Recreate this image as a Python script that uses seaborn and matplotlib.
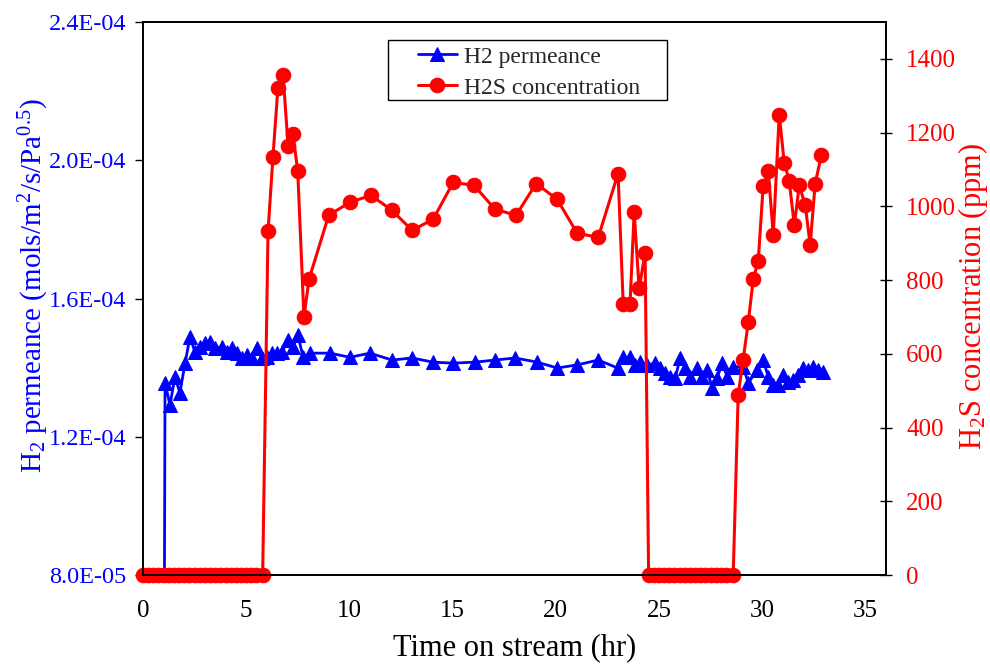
import matplotlib
matplotlib.use("Agg")
import matplotlib.pyplot as plt
from matplotlib.ticker import FuncFormatter
from matplotlib.patches import Rectangle
import seaborn as sns
import pandas as pd

# ---- data ----
h2_time = [1.0, 1.07, 1.31, 1.55, 1.79, 2.04, 2.28, 2.52, 2.76, 3.0, 3.25, 3.49, 3.83, 4.07,
           4.3, 4.56, 4.8, 5.04, 5.28, 5.53, 5.77, 6.0, 6.25, 6.5, 6.74, 7.03, 7.27, 7.51,
           7.76, 8.1, 9.06, 10.03, 11.0, 12.07, 13.04, 14.05, 15.03, 16.1, 17.06, 18.03,
           19.1, 20.07, 21.04, 22.06, 23.0, 23.27, 23.6, 23.85, 24.09, 24.43, 24.82, 25.06,
           25.3, 25.55, 25.79, 26.03, 26.27, 26.5, 26.85, 27.1, 27.34, 27.58, 27.82, 28.07,
           28.31, 28.6, 29.08, 29.33, 29.76, 30.05, 30.3, 30.54, 30.78, 31.02, 31.27, 31.5,
           31.75, 32.0, 32.23, 32.48, 32.72, 32.96]
h2_perm = [0.0, 1.356e-4, 1.292e-4, 1.373e-4, 1.327e-4, 1.413e-4, 1.489e-4, 1.445e-4, 1.46e-4,
           1.471e-4, 1.474e-4, 1.457e-4, 1.46e-4, 1.445e-4, 1.457e-4, 1.442e-4, 1.428e-4,
           1.437e-4, 1.428e-4, 1.457e-4, 1.428e-4, 1.43e-4, 1.442e-4, 1.442e-4, 1.445e-4,
           1.48e-4, 1.46e-4, 1.494e-4, 1.43e-4, 1.442e-4, 1.442e-4, 1.43e-4, 1.442e-4,
           1.422e-4, 1.428e-4, 1.416e-4, 1.413e-4, 1.416e-4, 1.422e-4, 1.428e-4, 1.416e-4,
           1.399e-4, 1.408e-4, 1.422e-4, 1.399e-4, 1.43e-4, 1.43e-4, 1.408e-4, 1.416e-4,
           1.408e-4, 1.413e-4, 1.399e-4, 1.384e-4, 1.373e-4, 1.37e-4, 1.428e-4, 1.399e-4,
           1.373e-4, 1.399e-4, 1.373e-4, 1.393e-4, 1.341e-4, 1.37e-4, 1.413e-4, 1.373e-4,
           1.402e-4, 1.402e-4, 1.356e-4, 1.393e-4, 1.422e-4, 1.373e-4, 1.35e-4, 1.35e-4,
           1.379e-4, 1.358e-4, 1.364e-4, 1.379e-4, 1.399e-4, 1.393e-4, 1.402e-4, 1.393e-4,
           1.387e-4]

h2s_time = [0.0, 0.25, 0.5, 0.75, 1.0, 1.25, 1.5, 1.75, 2.0, 2.25, 2.5, 2.75, 3.0, 3.25, 3.5,
            3.75, 4.0, 4.25, 4.5, 4.75, 5.0, 5.25, 5.5, 5.8,
            6.06, 6.3, 6.54, 6.79, 7.03, 7.27, 7.5, 7.8, 8.05, 9.0, 10.03, 11.05, 12.07,
            13.04, 14.06, 15.03, 16.04, 17.06, 18.08, 19.05, 20.07, 21.04, 22.06, 23.02,
            23.27, 23.6, 23.8, 24.04, 24.33,
            24.5, 24.75, 25.0, 25.25, 25.5, 25.75, 26.0, 26.25, 26.5, 26.75, 27.0, 27.25,
            27.5, 27.75, 28.0, 28.25, 28.6,
            28.84, 29.08, 29.33, 29.57, 29.81, 30.05, 30.3, 30.54, 30.83, 31.07, 31.31,
            31.56, 31.8, 32.09, 32.33, 32.57, 32.87]
h2s_ppm = [0, 0, 0, 0, 0, 0, 0, 0, 0, 0, 0, 0, 0, 0, 0, 0, 0, 0, 0, 0, 0, 0, 0, 0,
           932, 1135, 1322, 1357, 1165, 1195, 1095, 700, 803, 976, 1011, 1030, 989,
           935, 965, 1065, 1057, 992, 976, 1062, 1019, 927, 916, 1089,
           735, 735, 984, 778, 873,
           0, 0, 0, 0, 0, 0, 0, 0, 0, 0, 0, 0, 0, 0, 0, 0, 0,
           489, 584, 686, 803, 851, 1054, 1095, 922, 1249, 1119, 1070,
           949, 1057, 1003, 895, 1062, 1138]

x_ticks = [0, 5, 10, 15, 20, 25, 30, 35]
left_ticks = [8.0e-5, 1.2e-4, 1.6e-4, 2.0e-4, 2.4e-4]
right_ticks = [0, 200, 400, 600, 800, 1000, 1200, 1400]

sns.set_theme(style="white")
plt.rcParams["font.family"] = ["Liberation Serif", "DejaVu Serif"]
plt.rcParams["mathtext.fontset"] = "custom"
plt.rcParams["mathtext.rm"] = "Liberation Serif"
plt.rcParams["mathtext.it"] = "Liberation Serif:italic"
plt.rcParams["mathtext.bf"] = "Liberation Serif:bold"

BLUE = "#0000ff"
RED = "#ff0000"

fig = plt.figure(figsize=(9.9, 6.66), dpi=100)
ax = fig.add_axes([0.1444, 0.1366, 0.7505, 0.8303])
ax2 = ax.twinx()

df_h2 = pd.DataFrame({"t": h2_time, "v": h2_perm})
df_s = pd.DataFrame({"t": h2s_time, "v": h2s_ppm})

sns.lineplot(data=df_h2, x="t", y="v", ax=ax, color=BLUE, marker="^", markersize=10.5,
             markeredgecolor=BLUE, linewidth=2.0, estimator=None, sort=False,
             label="H2 permeance", legend=False)
sns.lineplot(data=df_s, x="t", y="v", ax=ax2, color=RED, marker="o", markersize=10.5,
             markeredgecolor=RED, linewidth=2.2, estimator=None, sort=False,
             label="H2S concentration", legend=False, clip_on=False)

ax.set_xlim(0, 36)
ax.set_ylim(8.0e-5, 2.4e-4)
ax2.set_ylim(0, 1500)
ax.set_xticks(x_ticks)
ax.set_yticks(left_ticks)
ax2.set_yticks(right_ticks)
ax.yaxis.set_major_formatter(FuncFormatter(lambda v, p: f"{v:.1E}"))

for a in (ax, ax2):
    for s in a.spines.values():
        s.set_color("black")
        s.set_linewidth(1.3)
    a.grid(False)

ax.tick_params(axis="x", direction="out", length=6, width=1, colors="black",
               labelsize=18, labelcolor="black", pad=12)
ax.tick_params(axis="y", direction="out", length=6, width=1, colors="black",
               labelsize=17.5, labelcolor=BLUE, pad=6)
ax2.tick_params(axis="y", direction="inout", length=9, width=1, colors="black",
                labelsize=18, labelcolor=RED, pad=10)

ax.set_xlabel("Time on stream (hr)", fontsize=22, color="black", labelpad=8)
ax.set_ylabel("H$_2$ permeance (mols/m$^2$/s/Pa$^{0.5}$)", fontsize=21, color=BLUE)
ax.yaxis.set_label_coords(-0.124, 0.524)
ax2.set_ylabel("H$_2$S concentration (ppm)", fontsize=22, color=RED)
ax2.yaxis.set_label_coords(1.094, 0.503)

h1, l1 = ax.get_legend_handles_labels()
h2, l2 = ax2.get_legend_handles_labels()
leg = ax2.legend(h1 + h2, l1 + l2, loc="upper left", bbox_to_anchor=(0.362, 0.967),
                 borderaxespad=0, fontsize=17, frameon=False,
                 handlelength=1.65, handletextpad=0.3, borderpad=0.25, labelspacing=0.4)
fig.add_artist(Rectangle((388 / 990, 1 - 100 / 666), 279 / 990, 60 / 666,
                         transform=fig.transFigure, fill=False, edgecolor="black",
                         linewidth=1.0, zorder=10))

fig.savefig("out.png", dpi=100)
